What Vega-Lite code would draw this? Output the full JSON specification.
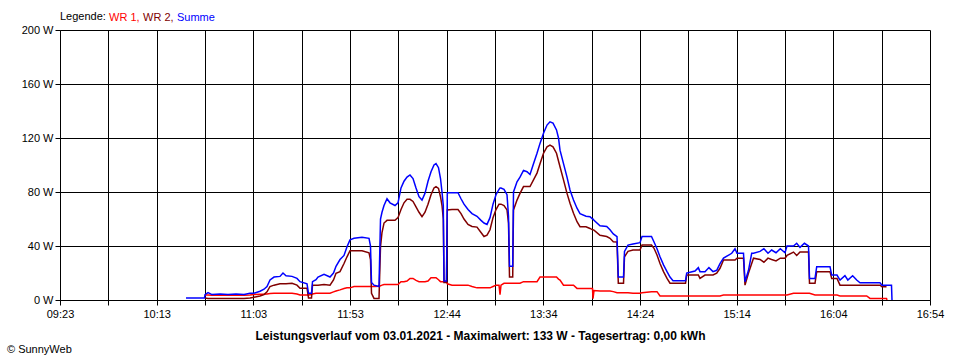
{
"$schema": "https://vega.github.io/schema/vega-lite/v6.json",
"width": 870, "height": 270,
"autosize": {"type": "none"},
"padding": {"left": 60, "top": 30, "right": 30, "bottom": 60},
"background": "white",
"config": {"font": "Liberation Sans", "view": {"stroke": null}},
"title": {"text": "© SunnyWeb", "orient": "bottom", "anchor": "start", "frame": "group", "dx": -53, "offset": 3, "fontSize": 11, "fontWeight": "normal", "color": "#000000", "font": "Liberation Sans"},
"data": {"values": [
{"t":628.92,"wr1":null,"wr2":null,"summe":1.5},
{"t":638.51,"wr1":null,"wr2":null,"summe":1.5},
{"t":638.77,"wr1":3.7,"wr2":1.5,"summe":4},
{"t":640.33,"wr1":3.7,"wr2":1.2,"summe":5.5},
{"t":642.40,"wr1":3.5,"wr2":1.2,"summe":4},
{"t":646.55,"wr1":3.5,"wr2":1.2,"summe":4.5},
{"t":650.69,"wr1":3.5,"wr2":1.2,"summe":4},
{"t":654.84,"wr1":3.5,"wr2":1.2,"summe":4.5},
{"t":658.99,"wr1":3.5,"wr2":1.2,"summe":4},
{"t":662.10,"wr1":3.7,"wr2":1.5,"summe":5},
{"t":664.17,"wr1":4,"wr2":2,"summe":5},
{"t":667.28,"wr1":4.2,"wr2":3,"summe":6.5},
{"t":669.36,"wr1":4.2,"wr2":4,"summe":8},
{"t":670.91,"wr1":4.5,"wr2":6,"summe":10},
{"t":672.47,"wr1":4.8,"wr2":10,"summe":14.8},
{"t":674.54,"wr1":5,"wr2":11,"summe":17},
{"t":677.65,"wr1":5,"wr2":12,"summe":17.5},
{"t":679.2,"wr1":5,"wr2":12,"summe":20},
{"t":680.76,"wr1":5,"wr2":12,"summe":18},
{"t":683.87,"wr1":5,"wr2":12.4,"summe":17.5},
{"t":686.46,"wr1":4.5,"wr2":11,"summe":16},
{"t":688.02,"wr1":3.7,"wr2":8.7,"summe":13.6},
{"t":691.65,"wr1":3.7,"wr2":8.7,"summe":12},
{"t":692.42,"wr1":3.7,"wr2":1.5,"summe":5},
{"t":693.98,"wr1":4,"wr2":1.5,"summe":5},
{"t":694.50,"wr1":4.5,"wr2":11,"summe":13.6},
{"t":696.31,"wr1":5,"wr2":11,"summe":15},
{"t":697.35,"wr1":5,"wr2":11,"summe":17},
{"t":700.46,"wr1":5,"wr2":11.5,"summe":19},
{"t":703.57,"wr1":5,"wr2":11,"summe":17},
{"t":705.38,"wr1":6,"wr2":14.8,"summe":20},
{"t":706.68,"wr1":6.7,"wr2":19.8,"summe":25},
{"t":708.75,"wr1":7.5,"wr2":21,"summe":30},
{"t":710.83,"wr1":8.5,"wr2":27,"summe":33},
{"t":712.38,"wr1":9,"wr2":32,"summe":39.5},
{"t":713.94,"wr1":9,"wr2":36.5,"summe":44.5},
{"t":716.01,"wr1":10,"wr2":36.5,"summe":45.7},
{"t":720.16,"wr1":10,"wr2":36.5,"summe":46.5},
{"t":723.79,"wr1":10,"wr2":35,"summe":45.7},
{"t":724.56,"wr1":10,"wr2":30,"summe":40},
{"t":725.08,"wr1":10,"wr2":5,"summe":13},
{"t":726.38,"wr1":10,"wr2":1.2,"summe":11},
{"t":728.97,"wr1":10.2,"wr2":1.2,"summe":10},
{"t":729.75,"wr1":10.5,"wr2":39.5,"summe":60},
{"t":730.52,"wr1":11,"wr2":50,"summe":65},
{"t":731.56,"wr1":11.5,"wr2":57,"summe":70},
{"t":733.12,"wr1":11.5,"wr2":59,"summe":75},
{"t":734.67,"wr1":11.5,"wr2":59,"summe":72},
{"t":737.26,"wr1":11.5,"wr2":59,"summe":70},
{"t":738.82,"wr1":11.5,"wr2":61,"summe":72},
{"t":740.37,"wr1":13.6,"wr2":67,"summe":83},
{"t":741.93,"wr1":13.6,"wr2":72,"summe":88},
{"t":743.49,"wr1":14,"wr2":74.6,"summe":91},
{"t":745.04,"wr1":16,"wr2":74.6,"summe":92.6},
{"t":746.60,"wr1":16,"wr2":73,"summe":90},
{"t":748.15,"wr1":14.5,"wr2":69,"summe":83},
{"t":749.71,"wr1":13.6,"wr2":65,"summe":76.5},
{"t":751.26,"wr1":13.6,"wr2":61.7,"summe":74},
{"t":752.82,"wr1":13.6,"wr2":65,"summe":79},
{"t":754.37,"wr1":14,"wr2":71,"summe":88},
{"t":755.93,"wr1":16.5,"wr2":78,"summe":95},
{"t":757.48,"wr1":16.5,"wr2":83,"summe":100},
{"t":758.52,"wr1":16.5,"wr2":84,"summe":101},
{"t":759.81,"wr1":15,"wr2":82.7,"summe":98},
{"t":760.85,"wr1":13.6,"wr2":76.5,"summe":90},
{"t":761.63,"wr1":13.6,"wr2":70,"summe":80},
{"t":762.30,"wr1":13.6,"wr2":60,"summe":70},
{"t":762.67,"wr1":13.6,"wr2":13,"summe":14},
{"t":763.96,"wr1":13.6,"wr2":13,"summe":14},
{"t":764.38,"wr1":12,"wr2":66.7,"summe":79.5},
{"t":766.81,"wr1":11,"wr2":67,"summe":79.5},
{"t":769.92,"wr1":11,"wr2":67,"summe":79.5},
{"t":771.48,"wr1":11,"wr2":64,"summe":75},
{"t":773.03,"wr1":11,"wr2":60,"summe":71},
{"t":775.11,"wr1":11,"wr2":56,"summe":67},
{"t":777.18,"wr1":10,"wr2":54.5,"summe":64},
{"t":779.77,"wr1":9,"wr2":54,"summe":62},
{"t":781.85,"wr1":9,"wr2":50,"summe":59},
{"t":783.40,"wr1":9,"wr2":47,"summe":57},
{"t":784.96,"wr1":9,"wr2":48,"summe":56},
{"t":786.51,"wr1":9,"wr2":52,"summe":61},
{"t":788.07,"wr1":10,"wr2":61,"summe":71},
{"t":789.62,"wr1":11,"wr2":67,"summe":78},
{"t":791.18,"wr1":11,"wr2":71,"summe":82},
{"t":791.70,"wr1":4,"wr2":71,"summe":83},
{"t":792.21,"wr1":11,"wr2":71,"summe":83},
{"t":793.77,"wr1":12.4,"wr2":70,"summe":82},
{"t":795.32,"wr1":12.4,"wr2":66.7,"summe":78},
{"t":796.10,"wr1":12.4,"wr2":57,"summe":62},
{"t":796.62,"wr1":12.4,"wr2":17,"summe":25},
{"t":798.28,"wr1":12.4,"wr2":17,"summe":25},
{"t":798.69,"wr1":12.4,"wr2":66.7,"summe":80},
{"t":800.51,"wr1":12.4,"wr2":74,"summe":87.6},
{"t":802.06,"wr1":12.4,"wr2":79,"summe":91},
{"t":803.88,"wr1":13.6,"wr2":84,"summe":96},
{"t":805.69,"wr1":13.6,"wr2":84,"summe":95},
{"t":807.25,"wr1":13.6,"wr2":84,"summe":93},
{"t":809.06,"wr1":13.6,"wr2":89,"summe":101},
{"t":810.88,"wr1":13.6,"wr2":94,"summe":108.7},
{"t":812.43,"wr1":17,"wr2":101,"summe":116},
{"t":814.25,"wr1":17,"wr2":108.7,"summe":123.5},
{"t":816.06,"wr1":17,"wr2":113.5,"summe":129.6},
{"t":817.61,"wr1":17,"wr2":114.8,"summe":132},
{"t":819.17,"wr1":17,"wr2":113.5,"summe":131},
{"t":820.98,"wr1":17,"wr2":108.7,"summe":126},
{"t":822.02,"wr1":15.5,"wr2":103,"summe":120},
{"t":822.80,"wr1":14.8,"wr2":98.7,"summe":111},
{"t":824.61,"wr1":11,"wr2":89,"summe":101},
{"t":826.43,"wr1":11,"wr2":79,"summe":91},
{"t":827.98,"wr1":11,"wr2":71.6,"summe":81.5},
{"t":829.80,"wr1":11,"wr2":64.2,"summe":74},
{"t":831.61,"wr1":8.6,"wr2":58,"summe":68},
{"t":833.17,"wr1":8.6,"wr2":54.3,"summe":64},
{"t":836.28,"wr1":8.6,"wr2":54.3,"summe":62},
{"t":838.35,"wr1":8.6,"wr2":53,"summe":61.7},
{"t":839.64,"wr1":8.6,"wr2":52,"summe":60},
{"t":839.90,"wr1":1,"wr2":52,"summe":60},
{"t":840.42,"wr1":7,"wr2":51.8,"summe":59},
{"t":843.53,"wr1":6.7,"wr2":48,"summe":55},
{"t":847.01,"wr1":6.7,"wr2":47,"summe":54.5},
{"t":848.72,"wr1":6.7,"wr2":45.7,"summe":52},
{"t":850.43,"wr1":6.2,"wr2":43.2,"summe":49},
{"t":852.35,"wr1":5.4,"wr2":43,"summe":47},
{"t":853.02,"wr1":5.4,"wr2":12.4,"summe":17},
{"t":855.72,"wr1":5.4,"wr2":12.4,"summe":17},
{"t":856.23,"wr1":5.4,"wr2":32,"summe":36},
{"t":858.05,"wr1":5.4,"wr2":36,"summe":40.7},
{"t":860.64,"wr1":5,"wr2":37,"summe":41.5},
{"t":864.27,"wr1":5,"wr2":37,"summe":42.5},
{"t":865.31,"wr1":5.4,"wr2":40.7,"summe":47},
{"t":870.23,"wr1":6.2,"wr2":40.7,"summe":47},
{"t":871.53,"wr1":6.2,"wr2":38.3,"summe":43},
{"t":873.08,"wr1":6.2,"wr2":33.3,"summe":38},
{"t":874.64,"wr1":3,"wr2":27,"summe":32},
{"t":876.45,"wr1":3,"wr2":21,"summe":26},
{"t":878.27,"wr1":3,"wr2":16,"summe":21},
{"t":879.82,"wr1":3,"wr2":12.4,"summe":17},
{"t":881.38,"wr1":3,"wr2":12.4,"summe":14.3},
{"t":887.86,"wr1":3,"wr2":12.4,"summe":14.3},
{"t":888.48,"wr1":3,"wr2":18.5,"summe":20},
{"t":892.78,"wr1":3,"wr2":18.5,"summe":21.5},
{"t":894.5,"wr1":3,"wr2":18.5,"summe":24},
{"t":895.37,"wr1":3,"wr2":16,"summe":21},
{"t":897.96,"wr1":3,"wr2":18.5,"summe":21},
{"t":900.0,"wr1":3,"wr2":18.5,"summe":24},
{"t":902.11,"wr1":3,"wr2":18.5,"summe":21},
{"t":904.03,"wr1":3,"wr2":19.8,"summe":22},
{"t":905.74,"wr1":3,"wr2":23.5,"summe":27},
{"t":907.56,"wr1":3.7,"wr2":29.6,"summe":31},
{"t":911.81,"wr1":3.7,"wr2":29.6,"summe":34.6},
{"t":913.52,"wr1":3.7,"wr2":29.6,"summe":38},
{"t":914.55,"wr1":3.7,"wr2":31,"summe":34.6},
{"t":917.92,"wr1":3.7,"wr2":31,"summe":34.6},
{"t":918.70,"wr1":3.7,"wr2":11,"summe":13.5},
{"t":920.51,"wr1":3.7,"wr2":20,"summe":22},
{"t":922.17,"wr1":3.7,"wr2":27,"summe":34.6},
{"t":923.10,"wr1":3.7,"wr2":31,"summe":34.6},
{"t":926.48,"wr1":3.7,"wr2":30,"summe":36},
{"t":928.5,"wr1":3.7,"wr2":28,"summe":38},
{"t":930.62,"wr1":3.7,"wr2":31,"summe":34.6},
{"t":932.5,"wr1":3.7,"wr2":30,"summe":37},
{"t":934.77,"wr1":3.7,"wr2":29,"summe":35},
{"t":937.0,"wr1":3.7,"wr2":31,"summe":38},
{"t":939.44,"wr1":3.7,"wr2":31,"summe":35},
{"t":940.47,"wr1":3.7,"wr2":33,"summe":40},
{"t":943.84,"wr1":5,"wr2":35.5,"summe":40},
{"t":945.5,"wr1":5,"wr2":33,"summe":42},
{"t":947.21,"wr1":5,"wr2":35.5,"summe":39},
{"t":949.5,"wr1":5,"wr2":35.5,"summe":42},
{"t":951.62,"wr1":5,"wr2":35.5,"summe":40},
{"t":952.14,"wr1":5,"wr2":12.4,"summe":16},
{"t":954.99,"wr1":3.7,"wr2":12.4,"summe":16},
{"t":955.87,"wr1":3.7,"wr2":21,"summe":24.7},
{"t":962.76,"wr1":3.7,"wr2":21,"summe":24.7},
{"t":963.64,"wr1":3.7,"wr2":16,"summe":18.5},
{"t":966.39,"wr1":3.7,"wr2":16,"summe":18.5},
{"t":967.95,"wr1":3,"wr2":11,"summe":14.8},
{"t":970.5,"wr1":3,"wr2":11,"summe":18},
{"t":972.0,"wr1":3,"wr2":11,"summe":14.8},
{"t":974.5,"wr1":3,"wr2":11,"summe":18},
{"t":976.60,"wr1":3,"wr2":11,"summe":14.8},
{"t":978.32,"wr1":3,"wr2":11,"summe":12.8},
{"t":981.79,"wr1":3,"wr2":11,"summe":12.8},
{"t":983.50,"wr1":1.2,"wr2":11,"summe":12.8},
{"t":988.68,"wr1":1.2,"wr2":11,"summe":12.8},
{"t":989.72,"wr1":1.2,"wr2":9.8,"summe":11},
{"t":992.05,"wr1":1.2,"wr2":9.8,"summe":11},
{"t":992.31,"wr1":0,"wr2":null,"summe":11},
{"t":994.64,"wr1":null,"wr2":null,"summe":11},
{"t":994.90,"wr1":null,"wr2":null,"summe":0}
]},
"transform": [{"fold": ["wr1", "wr2", "summe"], "as": ["serie", "w"]}],
"mark": {"type": "line", "strokeWidth": 1.5, "interpolate": "linear", "clip": true},
"encoding": {
  "x": {"field": "t", "type": "quantitative",
    "scale": {"domain": [563.6, 1014.6], "nice": false, "zero": false},
    "axis": {"values": [563.6, 588.656, 613.711, 638.767, 663.822, 688.878, 713.933, 738.989, 764.044, 789.1, 814.156, 839.211, 864.267, 889.322, 914.378, 939.433, 964.489, 989.544, 1014.6],
      "labelExpr": "round((datum.value - 563.6) / 25.0556) % 2 == 0 ? ((floor(datum.value / 60) < 10 ? '0' : '') + floor(datum.value / 60) + ':' + (floor(datum.value % 60) < 10 ? '0' : '') + floor(datum.value % 60)) : ''",
      "grid": true, "gridColor": "#000000", "gridOpacity": 1, "gridWidth": 1,
      "domainColor": "#000000", "tickColor": "#000000", "tickSize": 5,
      "labelColor": "#000000", "labelFontSize": 11, "labelPadding": 3, "labelFlush": false, "labelOverlap": false, "labelFont": "Liberation Sans",
      "title": "Leistungsverlauf vom 03.01.2021 - Maximalwert: 133 W - Tagesertrag: 0,00 kWh",
      "titleFontSize": 12, "titleFontWeight": "bold", "titleColor": "#000000", "titlePadding": 11, "titleX": 420, "titleFont": "Liberation Sans"}},
  "y": {"field": "w", "type": "quantitative",
    "scale": {"domain": [0, 200], "nice": false},
    "axis": {"values": [0, 40, 80, 120, 160, 200], "labelExpr": "datum.value + ' W'",
      "grid": true, "gridColor": "#000000", "gridOpacity": 1, "gridWidth": 1,
      "domainColor": "#000000", "tickColor": "#000000", "tickSize": 5,
      "labelColor": "#000000", "labelFontSize": 11, "labelPadding": 2, "labelFont": "Liberation Sans", "title": null}},
  "color": {"field": "serie", "type": "nominal",
    "scale": {"domain": ["wr1", "wr2", "summe"], "range": ["#ff0000", "#800000", "#0000ff"]},
    "legend": {"orient": "none", "legendX": 0, "legendY": -18, "direction": "horizontal",
      "title": "Legende:", "titleOrient": "left", "titleFontWeight": "normal", "titleFontSize": 11, "titleColor": "#000000", "titlePadding": 3, "titleFont": "Liberation Sans",
      "symbolType": "circle", "symbolSize": 0.01, "symbolOpacity": 0, "symbolStrokeWidth": 0, "labelOffset": -11, "columnPadding": 3,
      "labelFontSize": 11, "labelFont": "Liberation Sans",
      "labelExpr": "datum.value == 'wr1' ? 'WR 1,' : datum.value == 'wr2' ? 'WR 2,' : 'Summe'",
      "encode": {"symbols": {"update": {"size": {"value": 0.01}, "strokeWidth": {"value": 0}}},
                 "labels": {"update": {"fill": {"signal": "datum.value == 'wr1' ? '#ff0000' : datum.value == 'wr2' ? '#800000' : '#0000ff'"}}}}}}
}
}
